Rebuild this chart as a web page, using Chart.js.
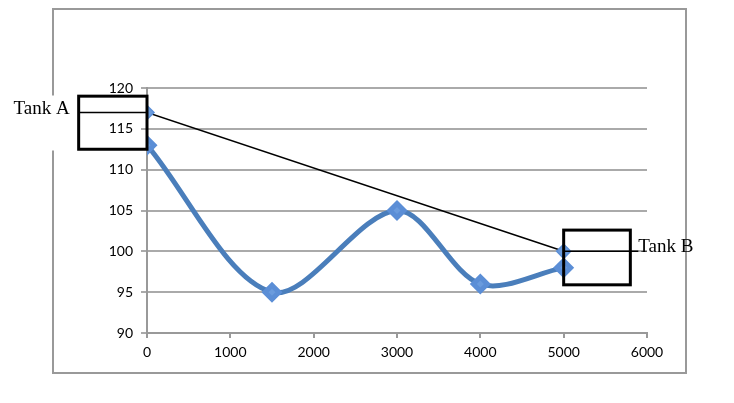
<!DOCTYPE html>
<html>
<head>
<meta charset="utf-8">
<script src="https://cdn.jsdelivr.net/npm/chart.js@4.4.1/dist/chart.umd.min.js"></script>
<style>
  body { margin: 0; background: #fff; }
  #wrap { width: 734px; height: 403px; }
</style>
</head>
<body>
<div id="wrap"><canvas id="myChart" width="734" height="403"></canvas></div>
<script>
// pipe profile (distance vs level)
var distance = [0, 1500, 3000, 4000, 5000];
var level = [113, 95, 105, 96, 98];

// the two tanks and the straight line joining them
var tankDistance = [0, 5000];
var tankLevel = [117, 100];
var tankNames = ['Tank A', 'Tank B'];

// annotation boxes round the tanks, in data units [xMin, xMax, yMin, yMax]
var tankBoxes = [[-820, 0, 112.5, 119], [5000, 5800, 95.9, 102.6]];

var blue = '#4F81BD';

var frame = {
  id: 'frame',
  beforeDraw: function(chart) {
    var c = chart.ctx;
    c.save();
    c.fillStyle = '#fff';
    c.fillRect(0, 0, chart.width, chart.height);
    c.strokeStyle = '#999';
    c.lineWidth = 2;
    c.strokeRect(53, 9, 633, 364);
    c.restore();
  },
  afterDraw: function(chart) {
    var c = chart.ctx;
    var xs = chart.scales.x, ys = chart.scales.y;
    c.save();
    c.font = '19px "Liberation Serif", serif';
    c.fillStyle = '#000';
    c.textBaseline = 'alphabetic';
    for (var i = 0; i < tankBoxes.length; i++) {
      var b = tankBoxes[i];
      var x0 = xs.getPixelForValue(b[0]), x1 = xs.getPixelForValue(b[1]);
      var y0 = ys.getPixelForValue(b[3]), y1 = ys.getPixelForValue(b[2]);
      var yl = ys.getPixelForValue(tankLevel[i]);
      var w = c.measureText(tankNames[i]).width;
      var tx = i === 0 ? x0 - 9 - w : x1 + 8;
      if (i === 0) {
        c.fillStyle = '#fff';
        c.fillRect(tx - 4, yl - 17, w + 8, 55);
        c.fillStyle = '#000';
      }
      c.strokeStyle = '#000';
      c.lineWidth = 3;
      c.strokeRect(x0, y0, x1 - x0, y1 - y0);
      c.lineWidth = 1.5;
      c.beginPath();
      c.moveTo(x0, yl);
      c.lineTo(i === 0 ? x1 : tx, yl);
      c.stroke();
      c.fillText(tankNames[i], tx, yl + 1);
    }
    c.restore();
  }
};

var tickFont = { family: 'Lato, "Liberation Sans", sans-serif', size: 14 };

var ctx = document.getElementById('myChart').getContext('2d');
var myChart = new Chart(ctx, {
  type: 'scatter',
  data: {
    datasets: [{
      label: 'Tanks',
      data: tankDistance.map(function(d, i) { return { x: d, y: tankLevel[i] }; }),
      showLine: true,
      borderColor: '#000',
      borderWidth: 1.5,
      pointStyle: 'rectRot',
      pointRadius: 7,
      pointBackgroundColor: '#6A9BDD',
      pointBorderColor: '#5B8ED6',
      order: 1
    }, {
      label: 'Level',
      data: distance.map(function(d, i) { return { x: d, y: level[i] }; }),
      showLine: true,
      tension: 0.32,
      borderColor: '#4A7EBB',
      borderWidth: 5,
      pointStyle: 'rectRot',
      pointRadius: 7,
      pointBackgroundColor: '#6A9BDD',
      pointBorderColor: '#5B8ED6',
      order: 2
    }]
  },
  options: {
    responsive: false,
    animation: false,
    layout: { padding: { left: 100, right: 87, top: 88, bottom: 40 } },
    plugins: { legend: { display: false }, tooltip: { enabled: false } },
    scales: {
      x: {
        type: 'linear',
        min: 0, max: 6000,
        ticks: {
          stepSize: 1000, color: '#000', font: tickFont, padding: 6, maxRotation: 0,
          callback: function(v) { return String(v); }
        },
        grid: { drawOnChartArea: false, tickLength: 5, color: '#999', lineWidth: 2 },
        border: { color: '#999', width: 2 },
        afterFit: function(s) { s.height = 30; }
      },
      y: {
        min: 90, max: 120,
        ticks: { stepSize: 5, color: '#000', font: tickFont, padding: 8 },
        grid: { color: '#aaa', lineWidth: 2, tickLength: 6 },
        border: { color: '#999', width: 2 },
        afterFit: function(s) { s.width = 47; }
      }
    }
  },
  plugins: [frame]
});
</script>
</body>
</html>
